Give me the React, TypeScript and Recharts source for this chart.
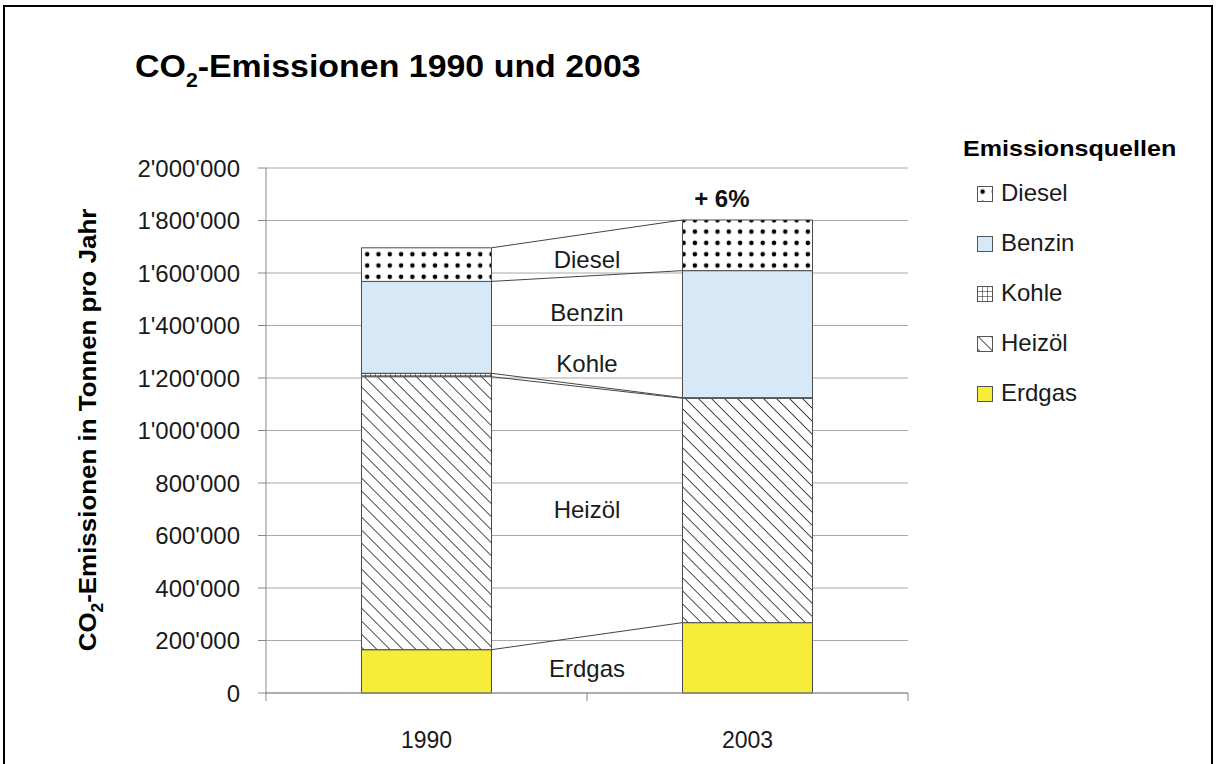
import React from 'react';
import { ComposedChart, Bar, XAxis, YAxis, CartesianGrid, Scatter } from 'recharts';

// ---- data ----
const categories = ['1990', '2003'];
const erdgas = [165000, 268000];
const heizoel = [1040000, 855000];
const kohle = [13000, 2000];
const benzin = [350000, 484000];
const diesel = [128000, 193000];
const yTicks = [0, 200000, 400000, 600000, 800000, 1000000, 1200000, 1400000, 1600000, 1800000, 2000000];
const stackNames = ['Erdgas', 'Heizöl', 'Kohle', 'Benzin', 'Diesel'];
const legendNames = ['Diesel', 'Benzin', 'Kohle', 'Heizöl', 'Erdgas'];
const annotationLabels = ['Diesel', 'Benzin', 'Kohle', 'Heizöl', 'Erdgas'];
const annotationValues = [1650000, 1450000, 1255000, 700000, 95000];
const changeLabel = '+ 6%';
const changeValue = 1885000;
const changePos = 1.42;

// ---- style ----
const FONT = '"Liberation Sans", Arial, Helvetica, sans-serif';
const fills: Record<string, string> = {
  Erdgas: '#f6ec3a',
  'Heizöl': 'url(#hatchPat)',
  Kohle: 'url(#gridPat)',
  Benzin: '#d7e9f7',
  Diesel: 'url(#dotPat)',
};
const GAP = 0.2975; // barCategoryGap fraction
const HALF = 0.5 - GAP;

const seriesArrays = [erdgas, heizoel, kohle, benzin, diesel];
const rows = categories.map((year, i) => {
  const r: Record<string, any> = { year };
  stackNames.forEach((n, k) => { r[n] = seriesArrays[k][i]; });
  return r;
});
const cumulative = categories.map((_, i) => {
  let s = 0;
  return seriesArrays.map((arr) => { s += arr[i]; return s; });
});
const boundaryLines = stackNames.map((_, k) => [
  { x: 0.5 + HALF, y: cumulative[0][k] },
  { x: 1.5 - HALF, y: cumulative[1][k] },
]);
const tickMarks = [0, 1, 2].map((x) => ({ x, y: 0 }));
const annotations = annotationLabels.map((label, i) => ({ x: 1, y: annotationValues[i], label }));
const changeAnno = [{ x: changePos, y: changeValue, label: changeLabel }];

const fmt = (v: number) => String(v).replace(/\B(?=(\d{3})+(?!\d))/g, "'");

const Empty = () => <g />;
const TickShape = (p: any) => (
  <line x1={p.cx} x2={p.cx} y1={p.cy} y2={p.cy + 8} stroke="#888" strokeWidth={1} />
);
const TextShape = (p: any) => (
  <text x={p.cx} y={p.cy} textAnchor="middle" dominantBaseline="central"
    fontFamily={FONT} fontSize={24} fill="#1a1a1a">{p.payload.label}</text>
);
const BoldTextShape = (p: any) => (
  <text x={p.cx} y={p.cy} textAnchor="middle" dominantBaseline="central"
    fontFamily={FONT} fontSize={24} fontWeight="bold" fill="#111">{p.payload.label}</text>
);

const Patterns = () => (
  <defs>
    <pattern id="dotPat" patternUnits="userSpaceOnUse" width={11.3} height={11.3}>
      <rect width={11.3} height={11.3} fill="#fff" />
      <circle cx={5.6} cy={5.6} r={2.3} fill="#000" />
    </pattern>
    <pattern id="hatchPat" patternUnits="userSpaceOnUse" width={9.2} height={9.2} patternTransform="rotate(-45)">
      <rect width={9.2} height={9.2} fill="#fff" />
      <line x1={0} y1={0} x2={0} y2={9.2} stroke="#111" strokeWidth={1.5} />
    </pattern>
    <pattern id="gridPat" patternUnits="userSpaceOnUse" width={5} height={5}>
      <rect width={5} height={5} fill="#fff" />
      <path d="M0 0 H5 M0 0 V5" stroke="#111" strokeWidth={1} fill="none" />
    </pattern>
  </defs>
);

const LegendIcon = ({ name }: { name: string }) => (
  <svg width={17} height={17} style={{ position: 'absolute', left: 977, top: 0 }}>
    <rect x={0.5} y={0.5} width={15} height={15} fill={fills[name]} stroke="#555" strokeWidth={1} />
  </svg>
);

export default function App() {
  return (
    <div style={{ position: 'absolute', left: 0, top: 0, width: 1216, height: 764, overflow: 'hidden', background: '#fff', fontFamily: FONT }}>
      <div style={{ position: 'absolute', left: 3, top: 5, width: 1210, height: 900, border: '2px solid #000', boxSizing: 'border-box' }} />
      <div style={{ position: 'absolute', left: 135, top: 50, fontSize: 32, fontWeight: 'bold', lineHeight: 1, whiteSpace: 'nowrap', color: '#000', transform: 'scaleX(1.06)', transformOrigin: 'left center' }}>
        CO<span style={{ fontSize: 20, position: 'relative', top: 10 }}>2</span>-Emissionen 1990 und 2003
      </div>
      <div style={{ position: 'absolute', left: 88, top: 430, transform: 'translate(-50%, -50%) rotate(-90deg) scaleX(1.08)', fontSize: 24, fontWeight: 'bold', whiteSpace: 'nowrap', color: '#000', lineHeight: 1 }}>
        CO<span style={{ fontSize: 16, position: 'relative', top: 7 }}>2</span>-Emissionen in Tonnen pro Jahr
      </div>
      <ComposedChart width={1216} height={764} data={rows}
        margin={{ top: 168, right: 308, bottom: 31, left: 100 }}
        barCategoryGap={`${GAP * 100}%`}
        style={{ position: 'absolute', left: 0, top: 0 }}>
        <Patterns />
        <CartesianGrid vertical={false} stroke="#a8a8a8" />
        <XAxis xAxisId="cat" dataKey="year" axisLine={{ stroke: '#888' }} tickLine={false} tickSize={8} tickMargin={31} height={40}
          tick={{ fontSize: 23, fill: '#1a1a1a', fontFamily: FONT }} />
        <XAxis xAxisId="num" type="number" dataKey="x" domain={[0, 2]} hide />
        <YAxis domain={[0, 2000000]} ticks={yTicks} tickFormatter={fmt} width={166} interval={0}
          axisLine={{ stroke: '#888' }} tickLine={{ stroke: '#888' }} tickSize={8} tickMargin={18}
          tick={{ fontSize: 24, fill: '#1a1a1a', fontFamily: FONT }} />
        {stackNames.map((n) => (
          <Bar key={n} xAxisId="cat" dataKey={n} stackId="a" fill={fills[n]} stroke="#4a4a4a" strokeWidth={1} isAnimationActive={false} />
        ))}
        {boundaryLines.map((d, k) => (
          <Scatter key={'l' + k} xAxisId="num" data={d} dataKey="y" shape={Empty}
            line={{ stroke: '#444', strokeWidth: 1 }} isAnimationActive={false} />
        ))}
        <Scatter xAxisId="num" data={tickMarks} dataKey="y" shape={TickShape} isAnimationActive={false} />
        <Scatter xAxisId="num" data={annotations} dataKey="y" shape={TextShape} isAnimationActive={false} />
        <Scatter xAxisId="num" data={changeAnno} dataKey="y" shape={BoldTextShape} isAnimationActive={false} />
      </ComposedChart>
      <div style={{ position: 'absolute', left: 963, top: 138, fontSize: 22, fontWeight: 'bold', whiteSpace: 'nowrap', lineHeight: 1, color: '#000', transform: 'scaleX(1.14)', transformOrigin: 'left center' }}>
        Emissionsquellen
      </div>
      {legendNames.map((n, i) => (
        <div key={n} style={{ position: 'absolute', left: 0, top: 186 + i * 50, width: 1216, height: 18 }}>
          <LegendIcon name={n} />
          <span style={{ position: 'absolute', left: 1001, top: -5, fontSize: 24, lineHeight: 1, whiteSpace: 'nowrap', color: '#1a1a1a' }}>{n}</span>
        </div>
      ))}
    </div>
  );
}
